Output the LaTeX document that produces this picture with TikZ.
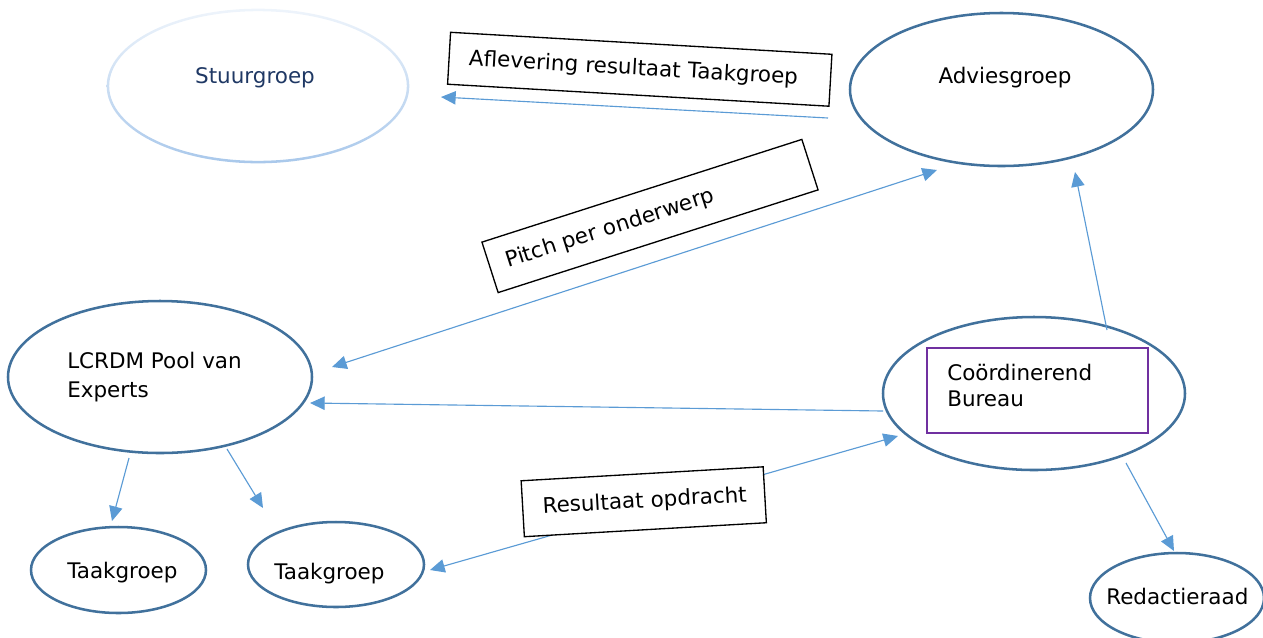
\documentclass[tikz,border=0pt]{standalone}
\usepackage{fontspec}
\setmainfont{DejaVu Sans}
\usetikzlibrary{arrows.meta,shapes.geometric}
\definecolor{ellblue}{HTML}{41719C}
\definecolor{arrblue}{HTML}{5B9BD5}
\definecolor{navy}{HTML}{1F3864}
\definecolor{purp}{HTML}{7030A0}
\definecolor{stlight}{HTML}{EEF4FB}
\definecolor{stdark}{HTML}{A9C8EB}
\begin{document}
\begin{tikzpicture}[x=0.75pt,y=-0.75pt,
  font=\fontsize{16.1pt}{19pt}\selectfont,
  ell/.style={ellipse, draw=ellblue, line width=1.9pt, inner sep=0pt},
  txt/.style={anchor=base west, inner sep=0pt},
  ctxt/.style={anchor=base, inner sep=0pt},
  conn/.style={draw=arrblue, line width=0.85pt, -{Triangle[length=11pt,width=10pt]}},
  biconn/.style={draw=arrblue, line width=0.85pt, {Triangle[length=11pt,width=10pt]}-{Triangle[length=11pt,width=10pt]}},
  lbl/.style={draw=black, line width=1pt, fill=white, align=left, inner ysep=0pt, inner xsep=15pt}
]
\useasboundingbox (0,0) rectangle (1263,637);

% Stuurgroep (light, fading outline)
\node[ellipse, minimum width=225pt, minimum height=114pt, inner sep=0pt] (st) at (258,86) {};
\shade[top color=stlight, bottom color=stdark, even odd rule]
  (258,86) ellipse [x radius=113.5pt, y radius=58pt]
  (258,86) ellipse [x radius=111.6pt, y radius=56.1pt];
\node[ctxt, text=navy] (stt) at (255,83) {Stuurgroep};

% Adviesgroep
\node[ell, minimum width=227.25pt, minimum height=114.75pt] (adv) at (1001.5,89.5) {};
\node[ctxt] (advt) at (1005,83) {Adviesgroep};

% LCRDM Pool van Experts
\node[ell, minimum width=228pt, minimum height=114pt] (pool) at (160,377) {};
\node[txt] (poolt1) at (67,368) {LCRDM Pool van};
\node[txt] (poolt2) at (67,397) {Experts};

% Coordinerend Bureau
\node[ell, minimum width=226.5pt, minimum height=114.75pt] (cb) at (1034,393.5) {};
\node[draw=purp, line width=1.1pt, minimum width=165.75pt, minimum height=63.75pt, inner sep=0pt] (cbbox) at (1037.5,390.5) {};
\node[txt] (cbt1) at (947,380) {Coördinerend};
\node[txt] (cbt2) at (947,406) {Bureau};

% Taakgroepen
\node[ell, minimum width=131.25pt, minimum height=64.5pt] (tg1) at (118.5,570) {};
\node[txt] (tg1t) at (67,578) {Taakgroep};
\node[ell, minimum width=132pt, minimum height=63.75pt] (tg2) at (336,564.5) {};
\node[txt] (tg2t) at (274,579) {Taakgroep};

% Redactieraad
\node[ell, minimum width=130.5pt, minimum height=67.5pt] (red) at (1177,598) {};
\node[txt] (redt) at (1106,604) {Redactieraad};

% connector ends
\coordinate (advW) at (828,118);
\coordinate (stE) at (441,97);
\coordinate (poolNE) at (332,367);
\coordinate (advSW) at (937,170);
\coordinate (cbW) at (883,411);
\coordinate (poolE) at (310,403);
\coordinate (cbN) at (1107,330);
\coordinate (advS) at (1075,172);
\coordinate (cbS) at (1126,463);
\coordinate (redN) at (1174,551);
\coordinate (poolS1) at (129,458);
\coordinate (tg1N) at (112,521);
\coordinate (poolS2) at (227,449);
\coordinate (tg2N) at (263,508);
\coordinate (tg2E) at (430,570);
\coordinate (cbSW) at (898,436);

\draw[conn] (advW) -- (stE);
\draw[biconn] (poolNE) -- (advSW);
\draw[conn] (cbW) -- (poolE);
\draw[conn] (cbN) -- (advS);
\draw[conn] (cbS) -- (redN);
\draw[conn] (poolS1) -- (tg1N);
\draw[conn] (poolS2) -- (tg2N);
\draw[biconn] (tg2E) -- (cbSW);

% label boxes
\node[lbl, rotate=-3.3, minimum height=39pt, text width=256.5pt] (lab1) at (639.75,69.25) {\mbox{Aflevering resultaat Taakgroep}};
\node[lbl, rotate=17.8, minimum height=39.75pt, inner xsep=13pt, text width=226pt] (lab2) at (650,216) {\mbox{Pitch per onderwerp}};
\node[lbl, rotate=3.3, minimum height=42pt, text width=151.8pt] (lab3) at (643.75,501.75) {\mbox{Resultaat opdracht}};
\end{tikzpicture}
\end{document}
